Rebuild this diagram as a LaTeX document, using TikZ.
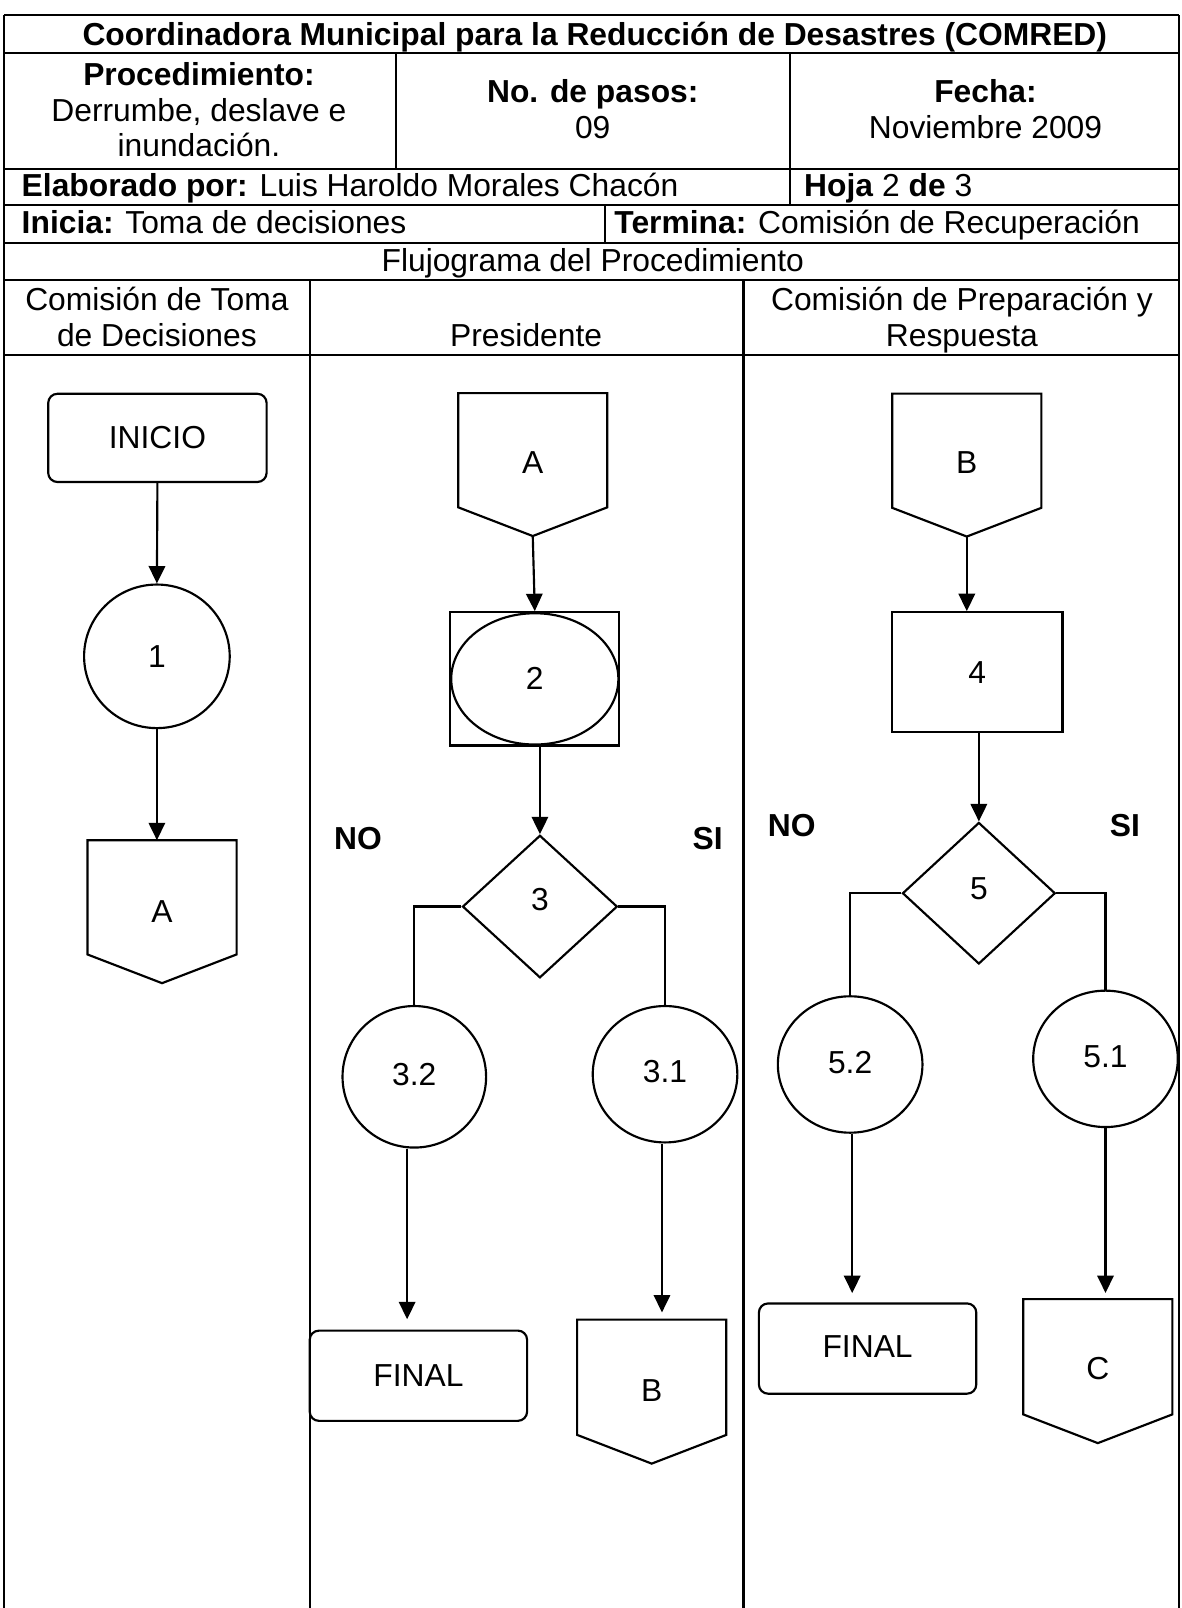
\documentclass[tikz,border=0pt]{standalone}
\usepackage{fontspec}
\setmainfont{Liberation Sans}
\usetikzlibrary{arrows.meta,shapes.geometric,calc}
\newcommand\offpagepath[1]{%
  \draw[ln] (#1.north west) -- (#1.north east) -- ($(#1.south east)+(0,-28)$)
    -- (#1.south) -- ($(#1.south west)+(0,-28)$) -- cycle;}
\begin{document}
\begin{tikzpicture}[x=1pt,y=-1pt,
  every node/.style={font=\fontsize{31}{35.5}\selectfont, inner sep=0pt},
  ln/.style={line width=2.1pt},
  txt/.style={anchor=base},
  txtw/.style={anchor=base west},
  lbl/.style={anchor=base, font=\fontsize{31}{35.5}\selectfont\bfseries},
  shp/.style={draw, line width=2.1pt, inner sep=0pt},
  term/.style={shp, rectangle, rounded corners=9pt, minimum width=212pt, minimum height=88pt},
  circ/.style={shp, ellipse, minimum width=141pt, minimum height=134pt},
  proc/.style={shp, rectangle},
  dec/.style={shp, diamond, minimum width=151pt, minimum height=139pt},
  offp/.style={rectangle, inner sep=0pt, minimum width=145pt, minimum height=139pt},
  arr/.style={line width=2.1pt, -{Triangle[length=17pt,width=16pt]}},
]
\useasboundingbox (0,0) rectangle (1152,1568);
\fill[white] (0,0) rectangle (1152,1568);

% ---------- table ----------
\draw[ln] (4,15) -- (1150,15);
\draw[ln] (4,15) -- (4,1568);
\draw[ln] (1150,15) -- (1150,1568);
\foreach \yy in {52,165,200,237,273,346} \draw[ln] (4,\yy) -- (1150,\yy);
\draw[ln] (386,52) -- (386,165);
\draw[ln] (770,52) -- (770,200);
\draw[ln] (590,200) -- (590,237);
\draw[ln] (302,273) -- (302,1568);
\draw[ln] (725,273) -- (725,1568);

\node[lbl] (title) at (580,44) {Coordinadora Municipal para la Reducción de Desastres (COMRED)};
\node[lbl] (proc1) at (194,83) {Procedimiento:};
\node[txt] (proc2) at (194,118) {Derrumbe, deslave e};
\node[txt] (proc3) at (194,153) {inundación.};
\node[lbl] (pasos1) at (578,100) {No. de pasos:};
\node[txt] (pasos2) at (578,135) {09};
\node[lbl] (fecha1) at (961,100) {Fecha:};
\node[txt] (fecha2) at (961,135) {Noviembre 2009};
\node[txtw] (elab) at (21,192) {\textbf{Elaborado por:} Luis Haroldo Morales Chacón};
\node[txtw] (hoja) at (784,192) {\textbf{Hoja} 2 \textbf{de} 3};
\node[txtw] (inicia) at (21,228) {\textbf{Inicia:} Toma de decisiones};
\node[txtw] (termina) at (599,228) {\textbf{Termina:} Comisión de Recuperación};
\node[txt] (fluj) at (578,265) {Flujograma del Procedimiento};
\node[txt] (lane1a) at (153,303) {Comisión de Toma};
\node[txt] (lane1b) at (153,338) {de Decisiones};
\node[txt] (lane2) at (513,338) {Presidente};
\node[txt] (lane3a) at (938,303) {Comisión de Preparación y};
\node[txt] (lane3b) at (938,338) {Respuesta};

% ---------- lane 1 ----------
\node[term, minimum width=213pt, minimum height=86pt] (inicio) at (153.5,427) {INICIO};
\node[circ, minimum width=142pt, minimum height=140pt] (c1) at (153,640) {1};
\node[offp] (a1) at (158,889) {A};
\offpagepath{a1}
\draw[arr] (inicio.south) -- (c1.north);
\draw[arr] (c1.south) -- (c1.south |- a1.north);

% ---------- lane 2 ----------
\node[offp] (a2) at (519.5,453) {\raisebox{3pt}{A}};
\offpagepath{a2}
\node[proc, minimum width=165pt, minimum height=130pt] (p2) at (521.5,662) {2};
\draw[ln] (p2.center) ellipse [x radius=81.5pt, y radius=64pt];
\draw[arr] (a2.south) -- (p2.north);
\node[dec] (d3) at (526.5,884) {\raisebox{13pt}{3}};
\draw[arr] (p2.south -| d3.north) -- (d3.north);
\node[lbl] (no3) at (349,828) {NO};
\node[lbl] (si3) at (690,828) {SI};
\node[circ, minimum width=140pt, minimum height=138pt] (c32) at (404,1050) {\raisebox{5pt}{3.2}};
\node[circ, minimum width=141pt, minimum height=133pt] (c31) at (648.5,1047.5) {\raisebox{5pt}{3.1}};
\draw[ln] (d3.west) -| (c32.north);
\draw[ln] (d3.east) -| (c31.north);
\node[term] (fin2) at (408,1341.5) {FINAL};
\node[offp, minimum height=140pt] (b2) at (635.5,1357) {\raisebox{3pt}{B}};
\offpagepath{b2}
\draw[arr, shorten >=10pt] ([xshift=-7pt]c32.south) -- ([xshift=-7pt]c32.south |- fin2.north);
\draw[arr, shorten >=7pt] ([xshift=-3pt]c31.south) -- ([xshift=-3pt]c31.south |- b2.north);

% ---------- lane 3 ----------
\node[offp] (b3) at (942.75,453.5) {\raisebox{4pt}{B}};
\offpagepath{b3}
\node[proc, minimum width=166pt, minimum height=117pt] (p4) at (953,655.5) {\raisebox{-5pt}{4}};
\draw[arr] (b3.south) -- (b3.south |- p4.north);
\node[dec, minimum width=149pt, minimum height=138pt] (d5) at (954.5,871) {\raisebox{10pt}{5}};
\draw[arr] (p4.south -| d5.north) -- (d5.north);
\node[lbl] (no5) at (772,816) {NO};
\node[lbl] (si5) at (1097,816) {SI};
\node[circ, minimum width=141pt, minimum height=133pt] (c52) at (829,1038) {\raisebox{5pt}{5.2}};
\node[circ, minimum width=141pt, minimum height=133pt] (c51) at (1078,1032.5) {\raisebox{5pt}{5.1}};
\draw[ln] (d5.west) -| (c52.north);
\draw[ln] (d5.east) -| (c51.north);
\node[term] (fin3) at (846,1315) {\raisebox{3pt}{FINAL}};
\node[offp, minimum height=140pt] (c3) at (1070.5,1337) {\raisebox{5pt}{C}};
\offpagepath{c3}
\draw[arr, shorten >=9pt] ([xshift=2pt]c52.south) -- ([xshift=2pt]c52.south |- fin3.north);
\draw[arr, shorten >=6pt] (c51.south) -- (c51.south |- c3.north);
\end{tikzpicture}
\end{document}
